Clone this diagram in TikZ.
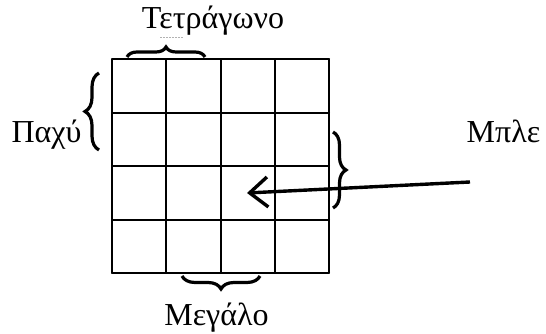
\documentclass[tikz,border=0pt]{standalone}
\usepackage{fontspec}
\setmainfont{Liberation Serif}
\usetikzlibrary{arrows.meta,decorations.pathreplacing}

\begin{document}
\begin{tikzpicture}[x=1pt,y=1pt,
    gridline/.style={line width=2pt, line cap=round},
    bracemark/.style={decorate, line width=3.2pt,
      decoration={brace, amplitude=#1}},
    bracemark/.default=11,
    pointer/.style={line width=3.4pt,
      -{Straight Barb[length=18pt,width=30pt]}},
    word/.style={font=\fontsize{32}{38}\selectfont, inner sep=0pt, anchor=base}]
  \useasboundingbox (0,0) rectangle (546,334);
  % the 4x4 grid
  \foreach \i in {0,...,4}{%
    \draw[gridline] ({112+\i*54.25},61) -- ({112+\i*54.25},274.7);
    \draw[gridline] (112,{61+\i*53.4}) -- (329,{61+\i*53.4});
  }
  % labels
  \node[word] (square) at (213,305) {Τετράγωνο};
  \node[word] (thick) at (46.5,191) {Παχύ};
  \node[word] (blue) at (503.5,191) {Μπλε};
  \node[word] (big) at (216.5,8) {Μεγάλο};
  \draw[gray!60, line width=0.6pt, dash pattern=on 2pt off 1pt] (160,297) -- (183,297);
  % braces
  \draw[bracemark=10] (127,277) -- (205,277);
  \draw[bracemark=14] (99,184) -- (99,261);
  \draw[bracemark=13] (333,202) -- (333,126);
  \draw[bracemark=13] (260,58) -- (182,58);
  % arrow
  \coordinate (tail) at (470,152);
  \coordinate (tip) at (247,141);
  \draw[pointer] (tail) -- (tip);
\end{tikzpicture}
\end{document}
